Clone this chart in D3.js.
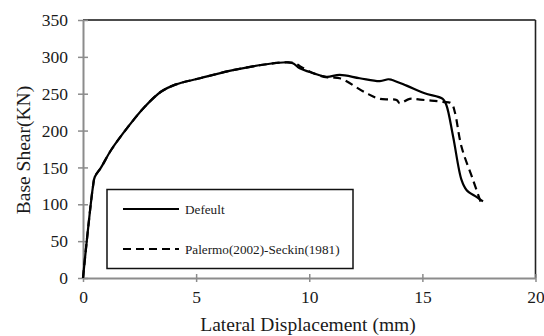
<!DOCTYPE html>
<html>
<head>
<meta charset="utf-8">
<script src="https://cdn.jsdelivr.net/npm/d3@7"></script>
<style>
  html, body { margin: 0; padding: 0; background: #fff; }
  svg text { font-family: "Liberation Serif", "Times New Roman", serif !important; }
</style>
</head>
<body>
<svg id="chart" width="544" height="336"></svg>
<script>
// Pushover curves: base shear vs lateral displacement
const xTicks = [0, 5, 10, 15, 20];
const yTicks = [0, 50, 100, 150, 200, 250, 300, 350];

const defaultX = [0, 0.2, 0.44, 0.52, 0.8, 1.25, 1.99, 2.72, 3.46, 4.05, 5.17, 6.63, 8.11, 9.07, 9.3, 9.58, 10.17, 10.76, 11.35, 12.23, 13.12, 13.49, 13.63, 14.3, 15.1, 15.9, 16.06, 16.36, 16.73, 16.95, 17.39, 17.68];
const defaultY = [0, 60, 124, 137, 150, 174, 205, 232, 253, 262, 271, 282, 290, 292.6, 291, 284.5, 278, 273, 275.5, 271, 267, 269.6, 269, 261, 250.6, 243, 234.7, 191.7, 133, 119.4, 110, 104];

const palermoX = [0, 0.2, 0.44, 0.52, 0.8, 1.25, 1.99, 2.72, 3.46, 4.05, 5.17, 6.63, 8.11, 9.07, 9.4, 9.6, 10.32, 10.82, 11.35, 12.51, 13.12, 13.86, 14.0, 14.44, 14.9, 15.9, 16.28, 16.43, 16.73, 17.24, 17.6];
const palermoY = [0, 60, 124, 137, 150, 174, 205, 232, 253, 262, 271, 282, 290, 292.6, 291, 287, 276, 272, 271, 251, 243, 241.5, 237, 243, 242, 239, 237, 225.6, 178, 133, 101];

const legendLabels = ["Defeult", "Palermo(2002)-Seckin(1981)"];

const svg = d3.select("#chart");
const x = d3.scaleLinear().domain([0, 20]).range([83, 535.5]);
const y = d3.scaleLinear().domain([0, 350]).range([278, 20]);

const axisGray = "#8c8c8c";

// frame: top and right edges
svg.append("line").attr("x1", x(0)).attr("x2", x(20)).attr("y1", y(350)).attr("y2", y(350))
  .attr("stroke", "#111").attr("stroke-width", 1.6);
svg.append("line").attr("x1", x(20)).attr("x2", x(20)).attr("y1", y(350)).attr("y2", y(0))
  .attr("stroke", "#222").attr("stroke-width", 1.6);

// axes
const xAxis = svg.append("g").attr("transform", `translate(0,${y(0)})`)
  .call(d3.axisBottom(x).tickValues(xTicks).tickSize(0).tickPadding(13));
xAxis.selectAll(".tick").append("line").attr("y1", -4).attr("y2", 4).attr("stroke", axisGray).attr("stroke-width", 1.5);
const yAxis = svg.append("g").attr("transform", `translate(${x(0)},0)`)
  .call(d3.axisLeft(y).tickValues(yTicks).tickSize(0).tickPadding(15));
yAxis.selectAll(".tick").append("line").attr("x1", -5).attr("x2", 5).attr("stroke", axisGray).attr("stroke-width", 1.5);
[xAxis, yAxis].forEach(g => {
  g.attr("font-family", null);
  g.select(".domain").attr("stroke", axisGray).attr("stroke-width", 2);
  g.selectAll("text").attr("font-size", 17.5).attr("fill", "#1a1a1a");
});
xAxis.selectAll("text").attr("dy", "0.71em");

// axis titles
svg.append("text").attr("x", 308).attr("y", 331).attr("text-anchor", "middle")
  .attr("font-size", 19.5).attr("fill", "#1a1a1a").text("Lateral Displacement (mm)");
svg.append("text").attr("transform", `translate(30,150) rotate(-90)`).attr("text-anchor", "middle")
  .attr("font-size", 19.5).attr("fill", "#1a1a1a").text("Base Shear(KN)");

// curves
const lineCat = d3.line().x(d => x(d[0])).y(d => y(d[1])).curve(d3.curveCatmullRom.alpha(0.5));
svg.append("path").datum(palermoX.map((v, i) => [v, palermoY[i]]))
  .attr("d", lineCat).attr("fill", "none").attr("stroke", "#000").attr("stroke-width", 2.2)
  .attr("stroke-dasharray", "8,5");
svg.append("path").datum(defaultX.map((v, i) => [v, defaultY[i]]))
  .attr("d", lineCat).attr("fill", "none").attr("stroke", "#000").attr("stroke-width", 2.2);

// legend
const lg = svg.append("g");
lg.append("rect").attr("x", 107).attr("y", 189.5).attr("width", 246).attr("height", 79)
  .attr("fill", "#fff").attr("stroke", "#111").attr("stroke-width", 1.5);
lg.append("line").attr("x1", 123).attr("x2", 179).attr("y1", 209).attr("y2", 209)
  .attr("stroke", "#000").attr("stroke-width", 2.2);
lg.append("line").attr("x1", 123).attr("x2", 179).attr("y1", 249).attr("y2", 249)
  .attr("stroke", "#000").attr("stroke-width", 2.2).attr("stroke-dasharray", "8,5");
lg.append("text").attr("x", 185).attr("y", 213.5).attr("font-size", 13.2).attr("fill", "#1a1a1a").text(legendLabels[0]);
lg.append("text").attr("x", 185).attr("y", 253.5).attr("font-size", 13.2).attr("fill", "#1a1a1a").text(legendLabels[1]);
</script>
</body>
</html>
